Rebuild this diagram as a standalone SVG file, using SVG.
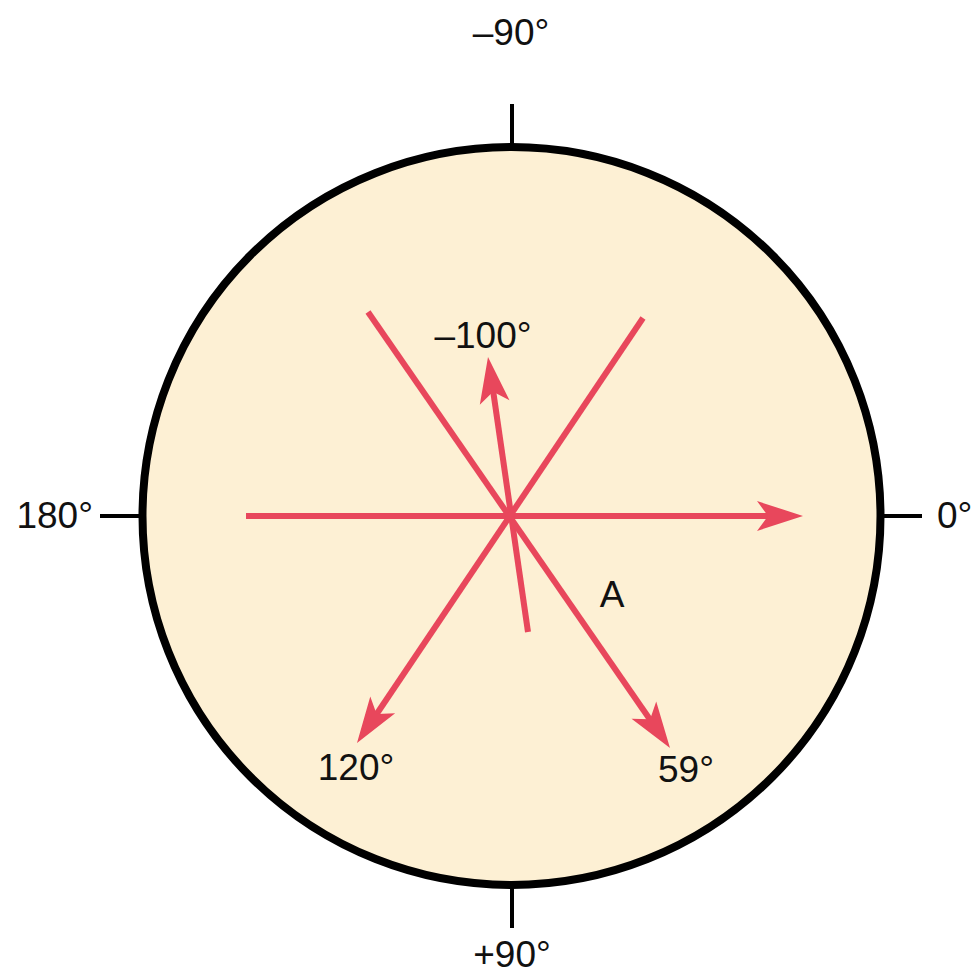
<svg xmlns="http://www.w3.org/2000/svg" xmlns:xlink="http://www.w3.org/1999/xlink" width="975" height="977" viewBox="0 0 975 977">
<style>
.lbl{font-family:"Liberation Sans",Arial,sans-serif;font-size:37px;fill:#111;}
.tick{stroke:#000;stroke-width:4;fill:none;}
.vec{stroke:#E8475C;stroke-width:6;fill:none;stroke-linecap:butt;}
.head{fill:#E8475C;}
</style>
<defs>
<path id="ah" d="M0,0 L-46,-15 L-35,0 L-46,15 Z"/>
</defs>
<rect width="975" height="977" fill="#fff"/>
<g id="dial">
<circle cx="511.5" cy="516" r="369" fill="#FDF0D4" stroke="#000" stroke-width="8"/>
<line class="tick" x1="512" y1="104" x2="512" y2="146"/>
<line class="tick" x1="512" y1="886" x2="512" y2="928"/>
<line class="tick" x1="100" y1="516" x2="142" y2="516"/>
<line class="tick" x1="881" y1="516" x2="922" y2="516"/>
</g>
<g id="labels">
<text class="lbl" x="511" y="45" text-anchor="middle">–90°</text>
<text class="lbl" x="512" y="967" text-anchor="middle">+90°</text>
<text class="lbl" x="93" y="528" text-anchor="end">180°</text>
<text class="lbl" x="937" y="528">0°</text>
</g>
<g id="connectors">
<line class="vec" x1="246" y1="516" x2="770" y2="516"/>
<use xlink:href="#ah" class="head" transform="translate(803,516)"/>
<line class="vec" x1="528" y1="632" x2="493" y2="390"/>
<use xlink:href="#ah" class="head" transform="translate(488,357) rotate(-98.3)"/>
<line class="vec" x1="368" y1="312" x2="651" y2="721"/>
<use xlink:href="#ah" class="head" transform="translate(670,748) rotate(55.4)"/>
<line class="vec" x1="643" y1="318" x2="376" y2="715"/>
<use xlink:href="#ah" class="head" transform="translate(357,743) rotate(124)"/>
</g>
<g id="vector-labels">
<text class="lbl" x="483" y="348" text-anchor="middle">–100°</text>
<text class="lbl" x="612" y="607" text-anchor="middle">A</text>
<text class="lbl" x="356" y="780" text-anchor="middle">120°</text>
<text class="lbl" x="686" y="782" text-anchor="middle">59°</text>
</g>
</svg>
